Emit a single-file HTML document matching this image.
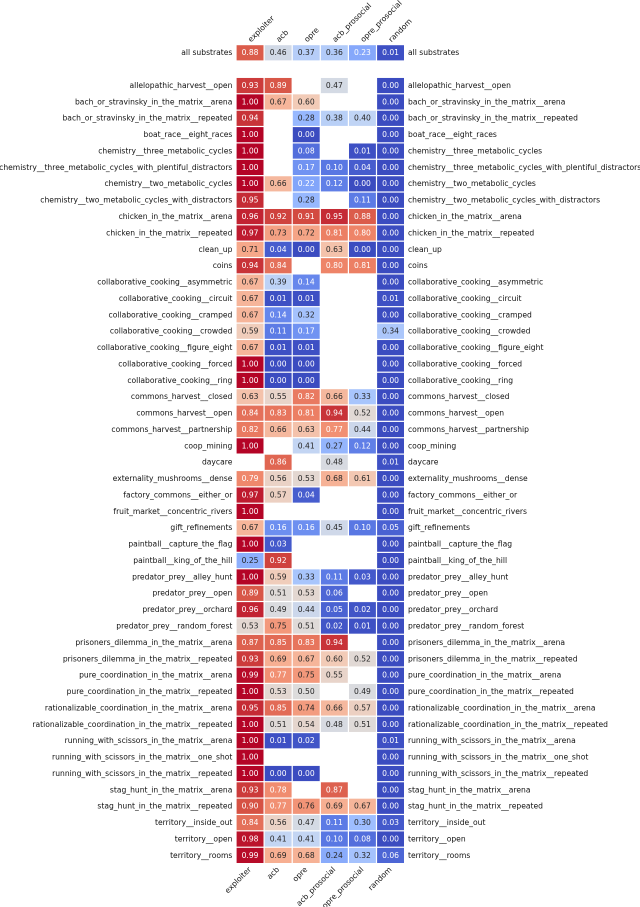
<!DOCTYPE html>
<html lang="en">
<head>
<meta charset="utf-8">
<title>Substrate heatmap</title>
<style>
html,body{margin:0;padding:0;background:#fff;width:640px;height:907px;overflow:hidden}
svg{display:block}
text{font-family:"DejaVu Sans","Liberation Sans",sans-serif}
</style>
</head>
<body>
<svg id="chart" xmlns="http://www.w3.org/2000/svg" width="640" height="907" viewBox="0 0 640 907"></svg>
<script>
const agents = ["exploiter","acb","opre","acb_prosocial","opre_prosocial","random"];
const substrates = ["all substrates",null,
"allelopathic_harvest__open","bach_or_stravinsky_in_the_matrix__arena","bach_or_stravinsky_in_the_matrix__repeated","boat_race__eight_races",
"chemistry__three_metabolic_cycles","chemistry__three_metabolic_cycles_with_plentiful_distractors","chemistry__two_metabolic_cycles","chemistry__two_metabolic_cycles_with_distractors",
"chicken_in_the_matrix__arena","chicken_in_the_matrix__repeated","clean_up","coins",
"collaborative_cooking__asymmetric","collaborative_cooking__circuit","collaborative_cooking__cramped","collaborative_cooking__crowded","collaborative_cooking__figure_eight","collaborative_cooking__forced","collaborative_cooking__ring",
"commons_harvest__closed","commons_harvest__open","commons_harvest__partnership","coop_mining","daycare","externality_mushrooms__dense","factory_commons__either_or","fruit_market__concentric_rivers","gift_refinements",
"paintball__capture_the_flag","paintball__king_of_the_hill",
"predator_prey__alley_hunt","predator_prey__open","predator_prey__orchard","predator_prey__random_forest",
"prisoners_dilemma_in_the_matrix__arena","prisoners_dilemma_in_the_matrix__repeated","pure_coordination_in_the_matrix__arena","pure_coordination_in_the_matrix__repeated",
"rationalizable_coordination_in_the_matrix__arena","rationalizable_coordination_in_the_matrix__repeated",
"running_with_scissors_in_the_matrix__arena","running_with_scissors_in_the_matrix__one_shot","running_with_scissors_in_the_matrix__repeated",
"stag_hunt_in_the_matrix__arena","stag_hunt_in_the_matrix__repeated","territory__inside_out","territory__open","territory__rooms"];
const n = null;
const exploiterValues = [.88,n,.93,1,.94,1,1,1,1,.95,.96,.97,.71,.94,.67,.67,.67,.59,.67,1,1,.63,.84,.82,1,n,.79,.97,1,.67,1,.25,1,.89,.96,.53,.87,.93,.99,1,.95,1,1,1,1,.93,.90,.84,.98,.99];
const acbValues = [.46,n,.89,.67,n,n,n,n,.66,n,.92,.73,.04,.84,.39,.01,.14,.11,.01,0,0,.55,.83,.66,n,.86,.56,.57,n,.16,.03,.92,.59,.51,.49,.75,.85,.69,.77,.53,.85,.51,.01,n,0,.78,.77,.56,.41,.69];
const opreValues = [.37,n,n,.60,.28,0,.08,.17,.22,.28,.91,.72,0,n,.14,.01,.32,.17,.01,0,0,.82,.81,.63,.41,n,.53,.04,n,.16,n,n,.33,.53,.44,.51,.83,.67,.75,.50,.74,.54,.02,n,0,n,.76,.47,.41,.68];
const acbProsocialValues = [.36,n,.47,n,.38,n,n,.10,.12,n,.95,.81,.63,.80,n,n,n,n,n,n,n,.66,.94,.77,.27,.48,.68,n,n,.45,n,n,.11,.06,.05,.02,.94,.60,.55,n,.66,.48,n,n,n,.87,.69,.11,.10,.24];
const opreProsocialValues = [.23,n,n,n,.40,n,.01,.04,0,.11,.88,.80,0,.81,n,n,n,n,n,n,n,.33,.52,.44,.12,n,.61,n,n,.10,n,n,.03,n,.02,.01,n,.52,n,.49,.57,.51,n,n,n,n,.67,.30,.08,.32];
const randomValues = [.01,n,0,0,0,0,0,0,0,0,0,0,0,0,0,.01,0,.34,0,0,0,0,0,0,0,.01,0,0,0,.05,0,0,0,0,0,0,0,0,0,0,0,0,.01,0,0,0,0,.03,0,.06];
const series = [exploiterValues,acbValues,opreValues,acbProsocialValues,opreProsocialValues,randomValues];

const coolwarmStops = ["#3b4cc0","#5977e3","#7b9ff9","#9ebeff","#c0d4f5","#dddcdc","#f2cbb7","#f7ac8e","#ee8468","#d65244","#b40426"];

const svg = document.getElementById('chart');
const NS = 'http://www.w3.org/2000/svg';
const plot = {left:236.0, top:44.6, width:168.6, height:819};
const fontSize = 7.6;

function xScale(i){ return plot.left + i*plot.width/agents.length; }
function yScale(j){ return plot.top + j*plot.height/substrates.length; }
const cellW = plot.width/agents.length, cellH = plot.height/substrates.length;

function hexRgb(h){ return [1,3,5].map(k=>parseInt(h.substr(k,2),16)); }
function colorFor(v){
  const t = Math.max(0,Math.min(1,v))*(coolwarmStops.length-1);
  const a = Math.min(Math.floor(t),coolwarmStops.length-2), f = t-a;
  const p = hexRgb(coolwarmStops[a]), q = hexRgb(coolwarmStops[a+1]);
  return p.map((c,k)=>c+(q[k]-c)*f);
}
function luminance(rgb){
  const l = rgb.map(c=>{c/=255;return c<=0.03928?c/12.92:Math.pow((c+0.055)/1.055,2.4);});
  return .2126*l[0]+.7152*l[1]+.0722*l[2];
}
function make(tag,attrs,parent,txt){
  const e = document.createElementNS(NS,tag);
  for(const k in attrs) e.setAttribute(k,attrs[k]);
  if(txt!==undefined) e.textContent = txt;
  parent.appendChild(e);
  return e;
}
function slug(s){ return s.replace(/_+/g,'-').replace(/\s+/g,'-'); }

const cellsGroup = make('g',{},svg);



series.forEach((vals,i)=>{
  vals.forEach((v,j)=>{
    if(v===null || v===undefined) return;
    const rgb = colorFor(v);
    const rect = make('rect',{x:xScale(i)+.6,y:yScale(j)+.6,width:cellW-1.2,height:cellH-1.2,fill:`rgb(${rgb.map(Math.round).join(',')})`},cellsGroup);
    
    
    const txt = make('text',{x:xScale(i)+cellW/2,y:yScale(j)+cellH/2+2.4,'text-anchor':'middle','font-size':fontSize,fill:luminance(rgb)>.408?'#262626':'#ffffff'},cellsGroup,v.toFixed(2));
    
    
  });
});

substrates.forEach((s,j)=>{
  if(!s) return;
  const y = yScale(j)+cellH/2+2.4;
  const l = make('text',{x:232.4,y:y,'text-anchor':'end','font-size':fontSize,fill:'#111'},svg,s);
  
  
  const r = make('text',{x:408,y:y,'text-anchor':'start','font-size':fontSize,fill:'#111'},svg,s);
  
  
});

agents.forEach((a,i)=>{
  const cx = xScale(i)+cellW/2;
  const tx = cx+1, ty = 42.5;
  const t = make('text',{x:tx,y:ty,'text-anchor':'start','font-size':fontSize,fill:'#111',transform:`rotate(-45 ${tx} ${ty})`},svg,a);
  
  
  const bx = cx+1.5, by = 870;
  const b = make('text',{x:bx,y:by,'text-anchor':'end','font-size':fontSize,fill:'#111',transform:`rotate(-45 ${bx} ${by})`},svg,a);
  
  
});
</script>
</body>
</html>
